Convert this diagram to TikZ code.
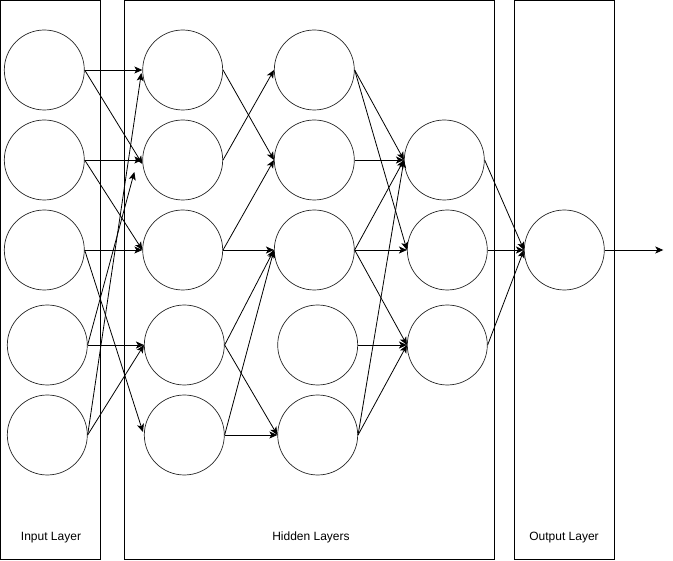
\documentclass[tikz,border=0pt]{standalone}
\usepackage{fontspec}
\setmainfont{Liberation Sans}
\usetikzlibrary{arrows.meta}
\begin{document}
\begin{tikzpicture}[x=1pt,y=-1pt,
  neuron/.style={circle,draw=black!85,line width=0.7pt,minimum size=80pt,inner sep=0pt},
  layerbox/.style={draw=black,line width=1pt},
  conn/.style={draw=black,line width=0.8pt,-{Stealth[length=8pt,width=7pt,inset=2pt]}},
  lbl/.style={font=\fontsize{12}{14}\selectfont,anchor=base,inner sep=0pt}]
\useasboundingbox (0,0) rectangle (673,561);
% layer boxes
\draw[layerbox] (0.5,0.5) rectangle (100.5,560);
\draw[layerbox] (124.5,0.5) rectangle (494.4,560);
\draw[layerbox] (514.3,0.5) rectangle (614.3,560);
\node[lbl] (lin) at (51,541) {Input Layer};
\node[lbl] (lhid) at (311,541) {Hidden Layers};
\node[lbl] (lout) at (564,541) {Output Layer};
% input layer
\node[neuron] (i1) at (44.3,70) {};
\node[neuron] (i2) at (44.3,160) {};
\node[neuron] (i3) at (44.3,250) {};
\node[neuron] (i4) at (47.3,345) {};
\node[neuron] (i5) at (47.3,435) {};
% hidden layer 1
\node[neuron] (a1) at (182.7,70) {};
\node[neuron] (a2) at (182.7,160) {};
\node[neuron] (a3) at (182.7,250) {};
\node[neuron] (a4) at (184.3,345) {};
\node[neuron] (a5) at (184.3,435) {};
% hidden layer 2
\node[neuron] (b1) at (314.3,70) {};
\node[neuron] (b2) at (314.3,160) {};
\node[neuron] (b3) at (314.3,250) {};
\node[neuron] (b4) at (317.7,345) {};
\node[neuron] (b5) at (317.7,435) {};
% hidden layer 3
\node[neuron] (c1) at (444.3,160) {};
\node[neuron] (c2) at (447.3,250) {};
\node[neuron] (c3) at (447.3,345) {};
% output
\node[neuron] (o) at (564.3,250) {};
\coordinate (out) at (663.3,250);
% input -> hidden 1
\draw[conn] (i1.east) -- (a1.west);
\draw[conn] (i1.east) -- ([shift={(0,4)}]a2.west);
\draw[conn] (i2.east) -- (a2.west);
\draw[conn] (i2.east) -- (a3.west);
\draw[conn] (i3.east) -- (a3.west);
\draw[conn] (i3.east) -- ([shift={(-1,-3)}]a5.west);
\draw[conn] (i4.east) -- (a4.west);
\draw[conn] (i4.east) -- ([shift={(-8,12)}]a2.west);
\draw[conn] (i5.east) -- (a4.west);
\draw[conn] (i5.east) -- ([shift={(-1,3)}]a1.west);
% hidden 1 -> hidden 2
\draw[conn] (a1.east) -- (b2.west);
\draw[conn] (a2.east) -- (b1.west);
\draw[conn] (a3.east) -- (b2.west);
\draw[conn] (a3.east) -- (b3.west);
\draw[conn] (a4.east) -- (b3.west);
\draw[conn] (a4.east) -- (b5.west);
\draw[conn] (a5.east) -- (b3.west);
\draw[conn] (a5.east) -- (b5.west);
% hidden 2 -> hidden 3
\draw[conn] (b1.east) -- (c1.west);
\draw[conn] (b1.east) -- (c2.west);
\draw[conn] (b2.east) -- (c1.west);
\draw[conn] (b3.east) -- (c1.west);
\draw[conn] (b3.east) -- (c2.west);
\draw[conn] (b3.east) -- (c3.west);
\draw[conn] (b4.east) -- (c3.west);
\draw[conn] (b5.east) -- (c1.west);
\draw[conn] (b5.east) -- (c3.west);
% hidden 3 -> output
\draw[conn] (c1.east) -- (o.west);
\draw[conn] (c2.east) -- (o.west);
\draw[conn] (c3.east) -- (o.west);
\draw[conn] (o.east) -- (out);
\end{tikzpicture}
\end{document}
